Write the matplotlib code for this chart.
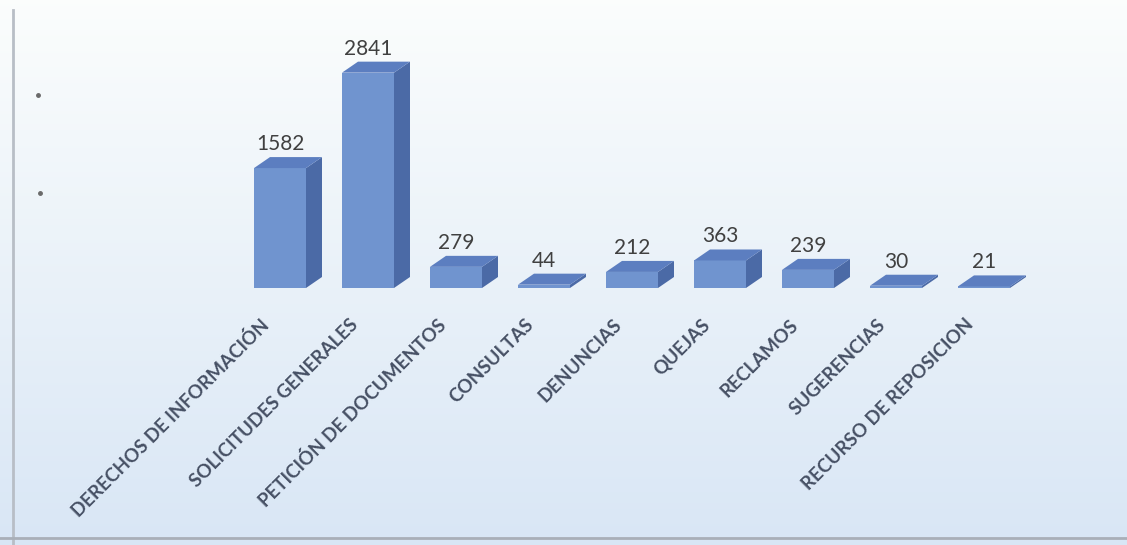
import numpy as np
import matplotlib
matplotlib.use("Agg")
import matplotlib.pyplot as plt
from matplotlib.patches import Polygon
from matplotlib.transforms import ScaledTranslation

categories = [
    "DERECHOS DE INFORMACIÓN",
    "SOLICITUDES GENERALES",
    "PETICIÓN DE DOCUMENTOS",
    "CONSULTAS",
    "DENUNCIAS",
    "QUEJAS",
    "RECLAMOS",
    "SUGERENCIAS",
    "RECURSO DE REPOSICION",
]
values = [1582, 2841, 279, 44, 212, 363, 239, 30, 21]

W, H, DPI = 1127, 545, 100
fig = plt.figure(figsize=(W / DPI, H / DPI), dpi=DPI)

# background gradient: near white at top to pale blue at bottom
bg = fig.add_axes([0, 0, 1, 1], zorder=0)
bg.set_axis_off()
top_c = np.array([0.985, 0.993, 0.990])
bot_c = np.array([0.850, 0.903, 0.962])
t = np.linspace(0, 1, 256)[:, None]
grad = (top_c * (1 - t) + bot_c * t)[:, None, :].repeat(2, axis=1)
bg.imshow(grad, aspect="auto", extent=[0, 1, 0, 1], origin="upper")
bg.set_xlim(0, 1)
bg.set_ylim(0, 1)

ax = fig.add_axes([0, 0, 1, 1], zorder=1)
ax.patch.set_alpha(0)
ax.set_axis_off()

# layout: pixels per category step and per unit of value
step_px = 88.0
unit_px = 0.0758
base_px = 288.0   # baseline, pixels from top
first_px = 280.0  # centre of first bar, pixels from left
ax.set_xlim(-first_px / step_px, (W - first_px) / step_px)
ax.set_ylim(-(H - base_px) / unit_px, base_px / unit_px)

bar_w = 52 / step_px
dx = 16 / step_px
dy = 11 / unit_px

front_c = "#7094cf"
top_col = "#5c7ec0"
side_c = "#4b6aa6"

x = np.arange(len(values))
for xi, v in zip(x, values):
    x0, x1 = xi - bar_w / 2, xi + bar_w / 2
    side = Polygon([(x1, 0), (x1 + dx, dy), (x1 + dx, v + dy), (x1, v)],
                   closed=True, fc=side_c, ec="none")
    top = Polygon([(x0, v), (x1, v), (x1 + dx, v + dy), (x0 + dx, v + dy)],
                  closed=True, fc=top_col, ec="none")
    front = Polygon([(x0, 0), (x1, 0), (x1, v), (x0, v)],
                    closed=True, fc=front_c, ec="none")
    for p in (side, front, top):
        ax.add_patch(p)
    ax.text(xi, v + 24 / unit_px, str(v), ha="center", va="center",
            fontsize=15, color="#404040", family="Lato")

lab_off = ScaledTranslation(-7 / DPI, -28 / DPI, fig.dpi_scale_trans)
for xi, name in zip(x, categories):
    ax.text(xi, 0, name, rotation=45, ha="right", va="top",
            transform=ax.transData + lab_off,
            fontsize=13.5, color="#465064", family="Lato", fontweight="bold")

# frame lines on the left and bottom edges
fig.add_artist(plt.Line2D([13 / W, 13 / W], [0, 1 - 10 / H],
                          transform=fig.transFigure, color="#b8bec6", lw=2))
fig.add_artist(plt.Line2D([0, 1], [1 - 538 / H, 1 - 538 / H],
                          transform=fig.transFigure, color="#a9afb8", lw=2))
fig.add_artist(plt.Line2D([38 / W, 40 / W], [1 - 95 / H, 1 - 193 / H],
                          transform=fig.transFigure, ls="none",
                          marker="o", ms=2.5, color="#6a6a6a"))

fig.savefig("out.png", dpi=DPI)
